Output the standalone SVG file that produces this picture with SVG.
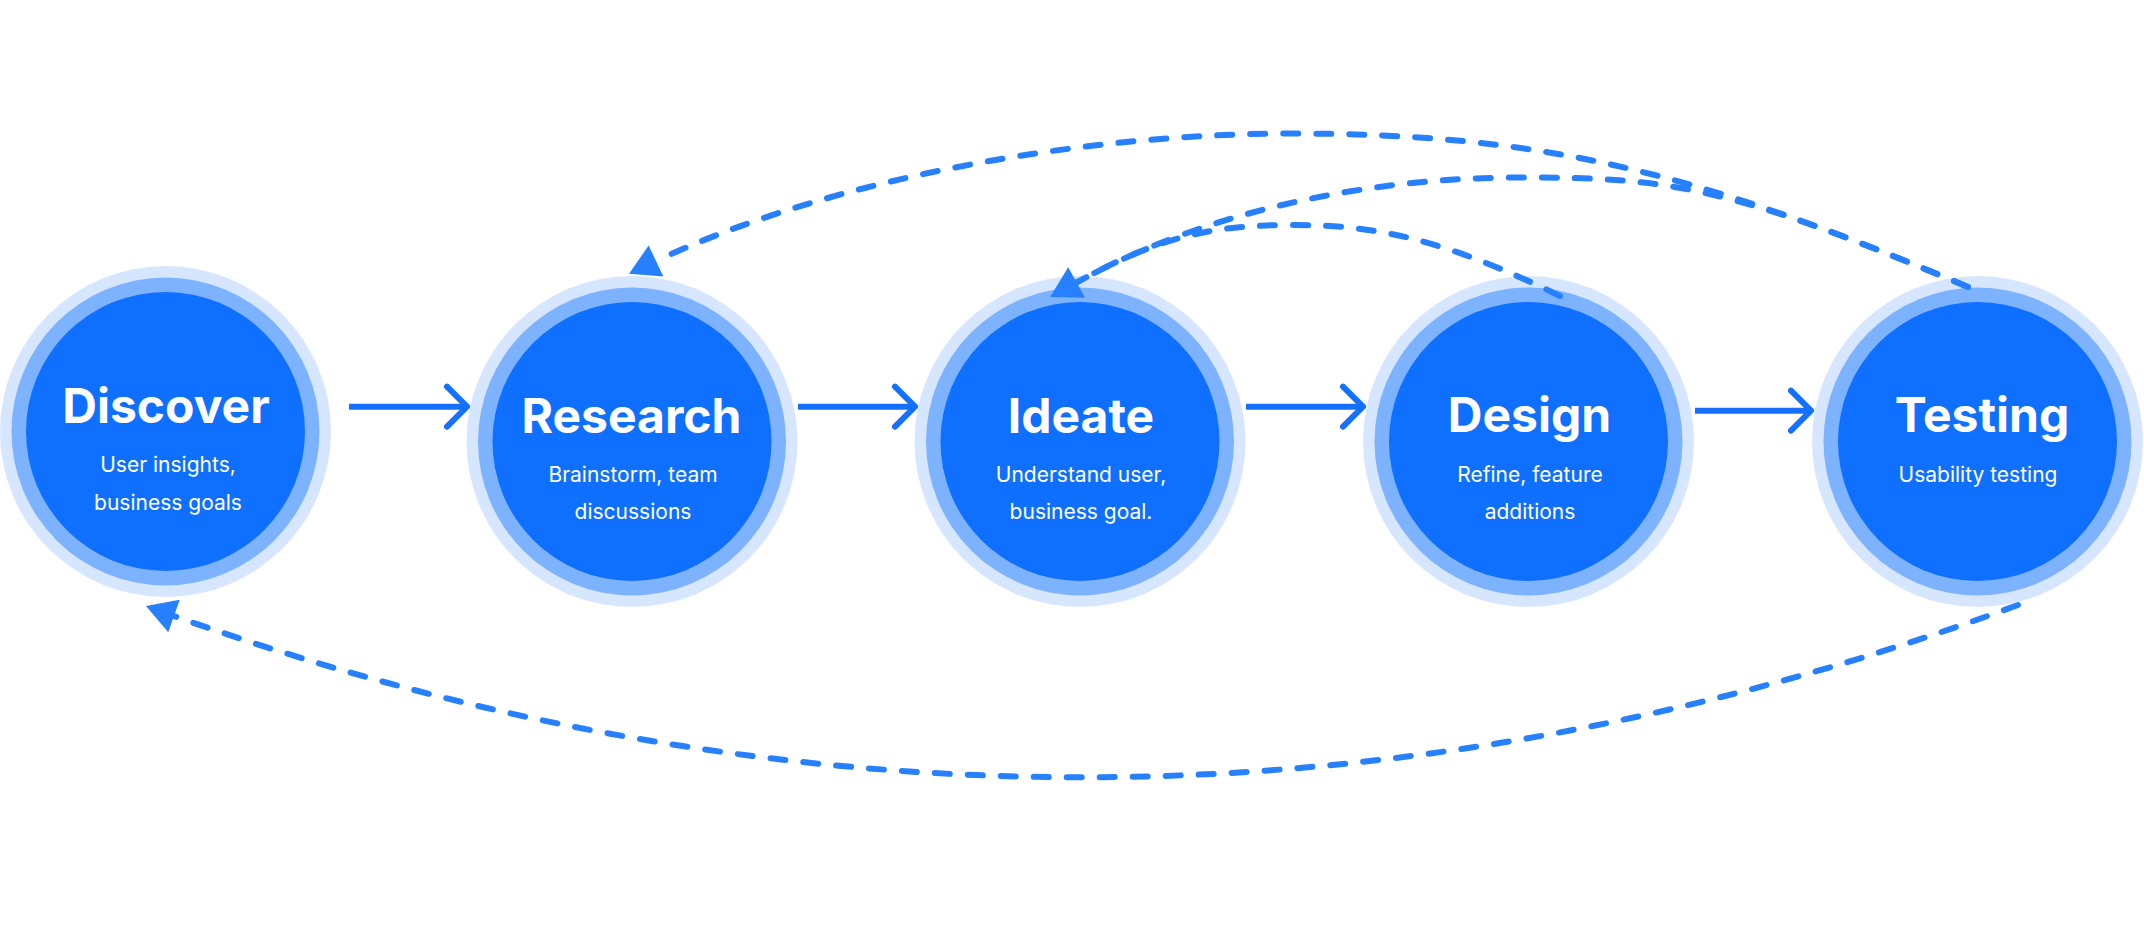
<svg xmlns="http://www.w3.org/2000/svg" width="2144" height="939" viewBox="0 0 2144 939">
  <style>
    .ring1 { fill: #D6E6FF; }
    .ring2 { fill: #7DB2FF; }
    .core { fill: #0F6FFF; }
    .title { font-family: Inter, "Noto Sans", "Liberation Sans", sans-serif; font-weight: 700; font-size: 48px; fill: #FFFFFF; text-anchor: middle; }
    .sub { font-family: Inter, "Noto Sans", "Liberation Sans", sans-serif; font-weight: 400; font-size: 21px; fill: #FFFFFF; text-anchor: middle; }
    .solid { fill: none; stroke: #1570FF; stroke-width: 6; }
    .chev { fill: none; stroke: #1570FF; stroke-width: 6; stroke-linecap: round; stroke-linejoin: round; }
    .dash { fill: none; stroke: #2780FF; stroke-width: 6; stroke-linecap: round; stroke-dasharray: 15 18; }
  </style>
  <defs>
    <marker id="tri" markerUnits="userSpaceOnUse" markerWidth="40" markerHeight="40" viewBox="-2 -18 32 36" refX="0" refY="0" orient="auto">
      <path d="M0,-15.5 L26.8,0 L0,15.5 Z" fill="#2780FF"/>
    </marker>
  </defs>
  <rect width="2144" height="939" fill="#FFFFFF"/>

  <g id="discover">
    <circle class="ring1" cx="165.5" cy="431.5" r="165.5"/>
    <circle class="ring2" cx="165.5" cy="431.5" r="154"/>
    <circle class="core" cx="165.5" cy="431.5" r="139.5"/>
    <text class="title" x="166" y="423">Discover</text>
    <text class="sub" x="168" y="472">User insights,</text>
    <text class="sub" x="168" y="510">business goals</text>
  </g>
  <g id="research">
    <circle class="ring1" cx="632" cy="441.5" r="165.5"/>
    <circle class="ring2" cx="632" cy="441.5" r="154"/>
    <circle class="core" cx="632" cy="441.5" r="139.5"/>
    <text class="title" x="631.5" y="433">Research</text>
    <text class="sub" x="633" y="482">Brainstorm, team</text>
    <text class="sub" x="633" y="519">discussions</text>
  </g>
  <g id="ideate">
    <circle class="ring1" cx="1080" cy="441.5" r="165.5"/>
    <circle class="ring2" cx="1080" cy="441.5" r="154"/>
    <circle class="core" cx="1080" cy="441.5" r="139.5"/>
    <text class="title" x="1081" y="433">Ideate</text>
    <text class="sub" x="1081" y="482">Understand user,</text>
    <text class="sub" x="1081" y="519">business goal.</text>
  </g>
  <g id="design">
    <circle class="ring1" cx="1528.5" cy="441.5" r="165.5"/>
    <circle class="ring2" cx="1528.5" cy="441.5" r="154"/>
    <circle class="core" cx="1528.5" cy="441.5" r="139.5"/>
    <text class="title" x="1529.5" y="432">Design</text>
    <text class="sub" x="1530" y="482">Refine, feature</text>
    <text class="sub" x="1530" y="519">additions</text>
  </g>
  <g id="testing">
    <circle class="ring1" cx="1977.5" cy="441.5" r="165.5"/>
    <circle class="ring2" cx="1977.5" cy="441.5" r="154"/>
    <circle class="core" cx="1977.5" cy="441.5" r="139.5"/>
    <text class="title" x="1982" y="432">Testing</text>
    <text class="sub" x="1978" y="482">Usability testing</text>
  </g>

  <g id="connectors">
    <line class="solid" x1="349" y1="406.7" x2="465" y2="406.7"/>
    <polyline class="chev" points="447,386.7 467,406.7 447,426.7"/>
    <line class="solid" x1="798" y1="406.7" x2="913" y2="406.7"/>
    <polyline class="chev" points="895,386.7 915,406.7 895,426.7"/>
    <line class="solid" x1="1246" y1="406.7" x2="1361" y2="406.7"/>
    <polyline class="chev" points="1343,386.7 1363,406.7 1343,426.7"/>
    <line class="solid" x1="1695" y1="410.7" x2="1809" y2="410.7"/>
    <polyline class="chev" points="1791,390.7 1811,410.7 1791,430.7"/>

    <path class="dash" d="M1968,287 C1692,170 1540,133.5 1290,133.5 C1090,133.5 837,176 656,261" marker-end="url(#tri)"/>
    <path class="dash" d="M1968,287 C1729,185.6 1670,177.5 1520,177.5 C1370,177.5 1208,210 1076.5,282.5" marker-end="url(#tri)"/>
    <path class="dash" d="M1560,296 C1443,238.8 1375,225 1295,225 C1215,225 1164,234.3 1076.5,282.5" marker-end="url(#tri)"/>
    <path class="dash" d="M2018,605 Q1098,944 174,616" marker-end="url(#tri)"/>
  </g>
</svg>
